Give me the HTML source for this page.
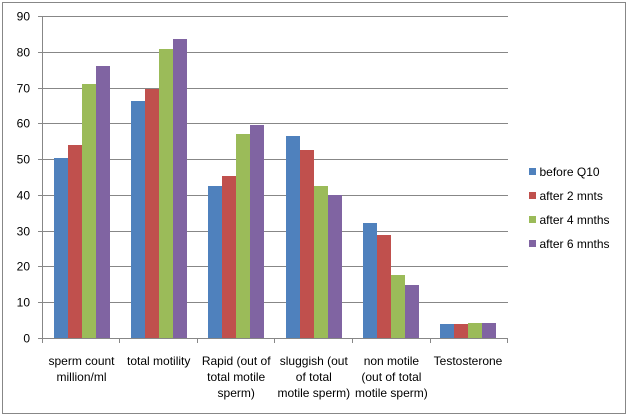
<!DOCTYPE html>
<html><head><meta charset="utf-8"><style>
html,body{margin:0;padding:0;background:#fff;}
svg{display:block;}
text{font-family:"Liberation Sans",Arial,sans-serif;font-size:12px;fill:#000;}
</style></head><body>
<svg width="629" height="417" viewBox="0 0 629 417" xmlns="http://www.w3.org/2000/svg">
<rect x="0" y="0" width="629" height="417" fill="#fff"/>
<rect x="2.5" y="2.5" width="623" height="411" fill="none" stroke="#878787" stroke-width="1"/>
<g stroke="#878787" stroke-width="1" shape-rendering="crispEdges">
<line x1="38" y1="16.5" x2="508" y2="16.5"/>
<line x1="38" y1="52.5" x2="508" y2="52.5"/>
<line x1="38" y1="88.5" x2="508" y2="88.5"/>
<line x1="38" y1="123.5" x2="508" y2="123.5"/>
<line x1="38" y1="159.5" x2="508" y2="159.5"/>
<line x1="38" y1="195.5" x2="508" y2="195.5"/>
<line x1="38" y1="231.5" x2="508" y2="231.5"/>
<line x1="38" y1="266.5" x2="508" y2="266.5"/>
<line x1="38" y1="302.5" x2="508" y2="302.5"/>
</g>
<g shape-rendering="crispEdges">
<rect x="54" y="158" width="14" height="180" fill="#4F81BD"/>
<rect x="68" y="145" width="14" height="193" fill="#C0504D"/>
<rect x="82" y="84" width="14" height="254" fill="#9BBB59"/>
<rect x="96" y="66" width="14" height="272" fill="#8064A2"/>

<rect x="131" y="101" width="14" height="237" fill="#4F81BD"/>
<rect x="145" y="89" width="14" height="249" fill="#C0504D"/>
<rect x="159" y="49" width="14" height="289" fill="#9BBB59"/>
<rect x="173" y="39" width="14" height="299" fill="#8064A2"/>

<rect x="208" y="186" width="14" height="152" fill="#4F81BD"/>
<rect x="222" y="176" width="14" height="162" fill="#C0504D"/>
<rect x="236" y="134" width="14" height="204" fill="#9BBB59"/>
<rect x="250" y="125" width="14" height="213" fill="#8064A2"/>

<rect x="286" y="136" width="14" height="202" fill="#4F81BD"/>
<rect x="300" y="150" width="14" height="188" fill="#C0504D"/>
<rect x="314" y="186" width="14" height="152" fill="#9BBB59"/>
<rect x="328" y="195" width="14" height="143" fill="#8064A2"/>

<rect x="363" y="223" width="14" height="115" fill="#4F81BD"/>
<rect x="377" y="235" width="14" height="103" fill="#C0504D"/>
<rect x="391" y="275" width="14" height="63" fill="#9BBB59"/>
<rect x="405" y="285" width="14" height="53" fill="#8064A2"/>

<rect x="440" y="324" width="14" height="14" fill="#4F81BD"/>
<rect x="454" y="324" width="14" height="14" fill="#C0504D"/>
<rect x="468" y="323" width="14" height="15" fill="#9BBB59"/>
<rect x="482" y="323" width="14" height="15" fill="#8064A2"/>
</g>
<g stroke="#878787" stroke-width="1" shape-rendering="crispEdges">
<line x1="42.5" y1="16" x2="42.5" y2="343"/>
<line x1="38" y1="338.5" x2="508" y2="338.5"/>
<line x1="119.5" y1="338" x2="119.5" y2="343"/>
<line x1="197.5" y1="338" x2="197.5" y2="343"/>
<line x1="274.5" y1="338" x2="274.5" y2="343"/>
<line x1="352.5" y1="338" x2="352.5" y2="343"/>
<line x1="430.5" y1="338" x2="430.5" y2="343"/>
<line x1="507.5" y1="338" x2="507.5" y2="343"/>
</g>
<g text-anchor="end">
<text x="30" y="20.5">90</text>
<text x="30" y="56.5">80</text>
<text x="30" y="92.5">70</text>
<text x="30" y="127.5">60</text>
<text x="30" y="163.5">50</text>
<text x="30" y="199.5">40</text>
<text x="30" y="235.5">30</text>
<text x="30" y="270.5">20</text>
<text x="30" y="306.5">10</text>
<text x="30" y="342.5">0</text>
</g>
<g text-anchor="middle">
<text x="81.5" y="365">sperm count</text>
<text x="81.5" y="381">million/ml</text>
<text x="158.7" y="365">total motility</text>
<text x="236.2" y="365">Rapid (out of</text>
<text x="236.2" y="381">total motile</text>
<text x="236.2" y="397">sperm)</text>
<text x="313.8" y="365">sluggish (out</text>
<text x="313.8" y="381">of total</text>
<text x="313.8" y="397">motile sperm)</text>
<text x="391.4" y="365">non motile</text>
<text x="391.4" y="381">(out of total</text>
<text x="391.4" y="397">motile sperm)</text>
<text x="468" y="365">Testosterone</text>
</g>
<g shape-rendering="crispEdges">
<rect x="529" y="168" width="7" height="7" fill="#4F81BD"/>
<rect x="529" y="192" width="7" height="7" fill="#C0504D"/>
<rect x="529" y="216" width="7" height="7" fill="#9BBB59"/>
<rect x="529" y="240" width="7" height="7" fill="#8064A2"/>
</g>
<text x="539.5" y="176">before Q10</text>
<text x="539.5" y="200">after 2 mnts</text>
<text x="539.5" y="224">after 4 mnths</text>
<text x="539.5" y="248">after 6 mnths</text>
</svg>
</body></html>
